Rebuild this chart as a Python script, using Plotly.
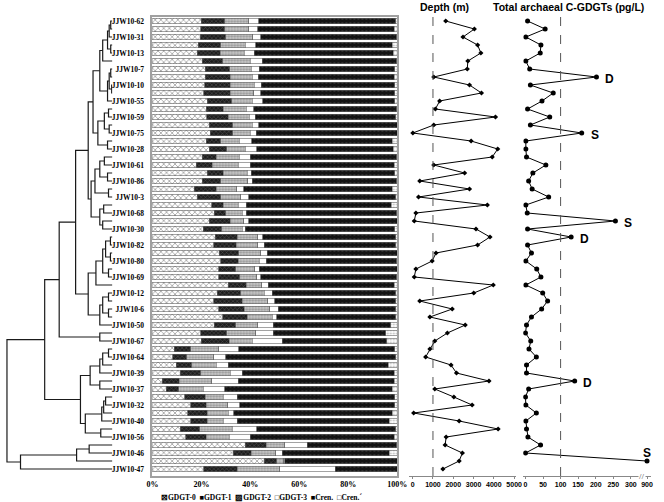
import plotly.graph_objects as go

W, H = 664, 502
N = 57
rows = list(range(1, N + 1))

sample_labels = ["JJW10-62", "JJW10-31", "JJW10-13", "JJW10-7", "JJW10-10", "JJW10-55", "JJW10-59",
                 "JJW10-75", "JJW10-28", "JJW10-61", "JJW10-86", "JJW10-3", "JJW10-68", "JJW10-30",
                 "JJW10-82", "JJW10-80", "JJW10-69", "JJW10-12", "JJW10-6", "JJW10-50", "JJW10-67",
                 "JJW10-64", "JJW10-39", "JJW10-37", "JJW10-32", "JJW10-40", "JJW10-56", "JJW10-46",
                 "JJW10-47"]
label_rows = list(range(1, N + 1, 2))

# relative abundance (%) of each component, rows top -> bottom
gdgt0 = [20.0, 19.7, 19.5, 18.7, 18.4, 20.4, 21.6, 21.6, 21.3, 21.0, 22.4, 22.0, 22.1, 23.3, 23.7, 21.9,
         23.3, 20.4, 18.0, 22.3, 20.4, 17.0, 18.4, 24.3, 25.3, 23.3, 20.7, 25.6, 25.0, 27.3, 28.0, 27.0,
         27.0, 31.0, 26.4, 25.0, 27.0, 28.7, 25.3, 19.7, 20.0, 9.0, 8.3, 9.7, 11.3, 4.0, 5.6, 13.3, 15.7,
         14.4, 15.6, 11.3, 13.7, 38.0, 33.0, 45.6, 21.0]
gdgt1 = [9.6, 9.9, 10.5, 9.3, 9.3, 8.3, 9.9, 10.1, 10.4, 10.7, 10.1, 7.0, 8.9, 9.5, 9.1, 6.1, 7.0, 5.6,
         6.4, 6.7, 7.6, 9.0, 9.6, 4.7, 4.7, 8.4, 7.7, 9.1, 9.3, 8.0, 7.0, 7.0, 8.6, 7.4, 9.6, 11.7, 10.6,
         10.0, 8.7, 10.7, 11.3, 6.7, 5.7, 6.3, 8.4, 7.0, 5.1, 8.3, 6.3, 8.0, 6.8, 8.0, 8.3, 8.4, 7.3, 5.1,
         13.7]
gdgt2 = [9.7, 9.7, 11.0, 10.0, 9.9, 11.3, 8.8, 9.0, 9.9, 9.6, 8.3, 9.4, 8.5, 8.0, 7.2, 7.5, 7.7, 9.5,
         10.6, 9.7, 10.9, 8.4, 8.0, 6.0, 6.7, 5.6, 8.3, 8.3, 8.7, 9.0, 8.7, 7.7, 7.1, 6.3, 9.7, 10.3, 10.4,
         10.2, 9.0, 11.9, 9.4, 11.3, 11.0, 10.0, 12.0, 13.3, 10.0, 7.4, 8.7, 8.6, 6.6, 13.4, 9.3, 7.6, 10.1,
         2.9, 17.3]
gdgt3 = [4.2, 3.7, 3.3, 4.3, 4.0, 4.8, 3.4, 2.6, 2.9, 3.0, 4.2, 2.9, 2.5, 2.7, 2.4, 5.0, 4.7, 4.5, 5.0,
         1.6, 1.8, 2.9, 3.3, 3.3, 1.6, 2.0, 1.3, 2.0, 2.6, 2.6, 2.7, 1.9, 1.6, 2.6, 3.3, 3.0, 3.3, 1.8, 6.3,
         7.0, 12.3, 8.3, 5.0, 5.0, 5.0, 10.7, 8.9, 5.7, 5.0, 2.3, 5.7, 10.0, 8.7, 9.3, 2.6, 0.4, 22.7]
cren = [55.8, 55.7, 55.4, 55.7, 56.8, 54.9, 55.3, 55.4, 54.5, 54.7, 54.0, 58.4, 57.3, 56.5, 57.6, 57.5,
        55.7, 59.7, 58.7, 58.7, 59.0, 60.7, 60.0, 59.3, 61.4, 60.7, 61.0, 54.3, 53.7, 53.1, 53.3, 56.4,
        55.4, 51.4, 50.3, 49.3, 48.0, 48.6, 48.0, 46.0, 42.7, 63.7, 69.3, 65.3, 62.0, 63.7, 68.4, 64.3,
        63.3, 64.7, 62.0, 56.6, 58.7, 36.4, 43.7, 46.0, 25.3]
cren_iso = [0.7, 1.3, 0.3, 2.0, 1.6, 0.3, 1.0, 1.3, 1.0, 1.0, 1.0, 0.3, 0.7, 0.0, 0.0, 2.0, 1.6, 0.3, 1.3,
            1.0, 0.3, 2.0, 0.7, 2.4, 0.3, 0.0, 1.0, 0.7, 0.7, 0.0, 0.3, 0.0, 0.3, 1.3, 0.7, 0.7, 0.7, 0.7,
            2.7, 4.7, 4.3, 1.0, 0.7, 3.7, 1.3, 1.3, 2.0, 1.0, 1.0, 2.0, 3.3, 0.7, 1.3, 0.3, 3.3, 0.0, 0.0]

depth_m = [1630, 3040, 2480, 3200, 3360, 2720, 2690, 1040, 2800, 3390, 1330, 1120, 4080, 1040, 10, 2880,
           4190, 3920, 1040, 2560, 350, 2800, 290, 3680, 160, 80, 3120, 3810, 3200, 1150, 960, 160, 80,
           3970, 3010, 350, 1950, 850, 2590, 1710, 1090, 850, 640, 1890, 2160, 3760, 1090, 2030, 2930,
           50, 2290, 4210, 1650, 1600, 2450, 2290, 1490]
cgdgt_pgL = [6, 56, 1, 44, 42, 1, 12, 202, 14, 79, 47, 6, 69, 14, 160, 1, 1, 3, 58, 21, 9, 19, 66, 1, 5,
             256, 6, 130, 6, 17, 1, 32, 44, 1, 49, 63, 46, 17, 3, 0, 15, 10, 31, 3, 3, 140, 9, 0, 1, 31,
             1, 3, 7, 43, 0, 900, None]
event_rows = [8, 15, 26, 28, 46, 56]
event_tags = ["D", "S", "S", "D", "D", "S"]

depth_ticks = [0, 1000, 2000, 3000, 4000, 5000]
cg_ticks = [0, 50, 100, 150, 200, 250, 300, 900]
cg_break_from = 300      # axis is broken after this value
cg_break_pos = 346       # axis position where the value beyond the break is drawn

# hierarchical clustering: (child a, child b, height); positive = leaf row, negative = merge number
dendro_merges = [
    (1, 2, 1.7), (-1, 3, 3.3), (4, 5, 1.7), (-2, -3, 5), (-4, 6, 10), (7, 8, 1.7), (9, 10, 0.7),
    (-6, -7, 3.3), (-8, 11, 5), (-5, -9, 13), (12, 13, 4), (14, 15, 3.3), (-11, -12, 8.3), (16, 17, 5),
    (-13, -14, 15), (-10, -15, 20), (18, 19, 8.3), (20, 21, 5), (-17, -18, 13), (22, 23, 4),
    (-19, -20, 18), (24, 25, 9), (26, 27, 10), (-22, -23, 13), (-21, -24, 22), (-16, -25, 25),
    (28, 29, 2), (30, 31, 2), (-27, -28, 7), (32, 33, 4), (-29, -30, 10), (-31, 34, 17), (35, 36, 4),
    (37, 38, 4), (-33, -34, 10), (-35, 39, 13), (-32, -36, 25), (-26, -37, 38), (40, 41, 13),
    (-38, -39, 55), (42, 43, 4), (-41, 44, 10), (-42, 45, 13), (46, 47, 13), (-43, -44, 23),
    (48, 49, 7), (-46, 50, 9), (-47, 51, 11), (52, 53, 12), (-48, -49, 28), (-45, -50, 33),
    (-40, -51, 70), (54, 55, 24), (-53, 56, 37), (-54, 57, 95), (-52, -55, 109),
]

# ---------------------------------------------------------------- helpers
def px_x(p):
    return p / W


def px_y(p):
    return 1 - p / H


top_px, bot_px = 17, 476
row0_px, row_step = 21, 8
y_top = 1 - (row0_px - top_px) / row_step
y_bot = 1 + (bot_px - row0_px) / row_step

fig = go.Figure()

# dendrogram
pos = {i: (i, 0.0) for i in rows}
dx, dy = [], []
for k, (a, b, h) in enumerate(dendro_merges, start=1):
    ya, da = pos[a]
    yb, db = pos[b]
    dx += [da, h, h, db, None]
    dy += [ya, ya, yb, yb, None]
    pos[-k] = ((ya + yb) / 2, h)
fig.add_trace(go.Scatter(x=dx, y=dy, mode="lines", xaxis="x", yaxis="y",
                         line=dict(color="#1a1a1a", width=1.2), hoverinfo="skip"))

# stacked bars
bar_styles = [
    ("GDGT-0", gdgt0, dict(shape="x", bgcolor="white", fgcolor="#3a3a3a", size=4, solidity=0.35)),
    ("GDGT-1", gdgt1, dict(shape="x", bgcolor="#1e1e1e", fgcolor="#8a8a8a", size=3, solidity=0.3)),
    ("GDGT-2", gdgt2, dict(shape=".", bgcolor="#c8c8c8", fgcolor="#6a6a6a", size=3, solidity=0.45)),
    ("GDGT-3", gdgt3, dict(shape="", bgcolor="white", fgcolor="white")),
    ("Cren.", cren, dict(shape=".", bgcolor="#141414", fgcolor="#555", size=4, solidity=0.2)),
    ("Cren.'", cren_iso, dict(shape=".", bgcolor="white", fgcolor="#777", size=3, solidity=0.3)),
]
for name, vals, pat in bar_styles:
    fig.add_trace(go.Bar(x=vals, y=rows, orientation="h", name=name, xaxis="x2", yaxis="y",
                         width=0.72,
                         marker=dict(color=pat["bgcolor"], pattern=pat,
                                     line=dict(color="#666", width=0.6))))

# depth profile
fig.add_trace(go.Scatter(x=depth_m, y=rows, xaxis="x3", yaxis="y", mode="lines+markers",
                         line=dict(color="black", width=1),
                         marker=dict(symbol="diamond", size=4, color="black")))

# total C-GDGTs (broken axis)
def cg_axis_value(v):
    if v is None:
        return None
    return v if v <= cg_break_from else cg_break_pos


cg_plot = [cg_axis_value(v) for v in cgdgt_pgL]
fig.add_trace(go.Scatter(x=cg_plot, y=rows, xaxis="x4", yaxis="y", mode="lines+markers",
                         line=dict(color="black", width=1),
                         marker=dict(symbol="circle", size=5, color="black")))

# ---------------------------------------------------------------- axes
serif_b = dict(family="Liberation Serif, Times New Roman, serif", size=8, color="black")
label_font = dict(family="Liberation Serif, Times New Roman, serif", size=7.5, color="black")
sans_b = dict(family="Liberation Sans, Arial, sans-serif", size=7, color="black")

d0_px, d_scale = 416.7, 0.0208
c0_px, c_scale = 532.3, 0.36
d_l, d_r = 413, 523
c_l, c_r = 530, 661

fig.update_layout(
    width=W, height=H, margin=dict(l=0, r=0, t=0, b=0),
    paper_bgcolor="white", plot_bgcolor="white", showlegend=False, barmode="stack",
    yaxis=dict(domain=[px_y(bot_px), px_y(top_px)], range=[y_bot, y_top], anchor="x2",
               tickvals=label_rows, ticktext=[f"<b>{s}</b>" for s in sample_labels],
               tickfont=label_font, ticks="", ticklabelstandoff=5, showgrid=False, zeroline=False,
               showline=True, mirror=True, linecolor="#a0a0a0", linewidth=1.5),
    xaxis=dict(domain=[0, px_x(109)], range=[110, 0], visible=False, anchor="y"),
    xaxis2=dict(domain=[px_x(150), px_x(401)], range=[0, 100], anchor="y",
                tickvals=[0, 20, 40, 60, 80, 100],
                ticktext=[f"<b>{v}%</b>" for v in [0, 20, 40, 60, 80, 100]],
                tickfont=serif_b, ticks="", showgrid=False, zeroline=False,
                showline=True, mirror=True, linecolor="#a0a0a0", linewidth=1.5),
    xaxis3=dict(domain=[px_x(d_l), px_x(d_r)],
                range=[(d_l - d0_px) / d_scale, (d_r - d0_px) / d_scale], anchor="y",
                tickvals=depth_ticks, ticktext=[f"<b>{v}</b>" for v in depth_ticks],
                tickfont=sans_b, ticks="outside", ticklen=2, tickcolor="#888",
                showgrid=False, zeroline=False, showline=True, linecolor="#888", linewidth=1),
    xaxis4=dict(domain=[px_x(c_l), px_x(c_r)],
                range=[(c_l - c0_px) / c_scale, (c_r - c0_px) / c_scale], anchor="y",
                tickvals=[cg_axis_value(v) for v in cg_ticks],
                ticktext=[f"<b>{v}</b>" for v in cg_ticks],
                tickfont=sans_b, ticks="outside", ticklen=2, tickcolor="#888",
                showgrid=False, zeroline=False, showline=True, linecolor="#888", linewidth=1),
)

# reference dashed lines
fig.add_shape(type="line", xref="x3", yref="y", x0=1000, x1=1000, y0=y_top, y1=y_bot,
              line=dict(color="#555", width=1, dash="dash"))
fig.add_shape(type="line", xref="x4", yref="y", x0=100, x1=100, y0=y_top, y1=y_bot,
              line=dict(color="#555", width=1, dash="dash"))

# axis break mark
fig.add_annotation(x=(cg_break_from + cg_break_pos) / 2 + 9, y=y_bot, xref="x4", yref="y",
                   xanchor="center", yanchor="middle",
                   text="//", showarrow=False, font=dict(size=7, color="#777"),
                   bgcolor="white", borderpad=0)

# D / S event labels
for r, tag in zip(event_rows, event_tags):
    v = cg_axis_value(cgdgt_pgL[r - 1])
    last = r == event_rows[-1]
    fig.add_annotation(x=v, y=r, xref="x4", yref="y", text=f"<b>{tag}</b>", showarrow=False,
                       xanchor="center", yanchor="middle",
                       xshift=0 if last else 13, yshift=8 if last else -2,
                       font=dict(family="Liberation Sans, Arial, sans-serif", size=12, color="black"))

# panel titles
title_font = dict(family="Liberation Sans, Arial, sans-serif", size=10.5, color="black")
fig.add_annotation(x=px_x(449.5), y=px_y(7), xref="paper", yref="paper", showarrow=False,
                   xanchor="center", yanchor="middle", text="<b>Depth (m)</b>", font=title_font)
fig.add_annotation(x=px_x(576), y=px_y(7), xref="paper", yref="paper", showarrow=False,
                   xanchor="center", yanchor="middle",
                   text="<b>Total archaeal C-GDGTs (pg/L)</b>", font=title_font)

# legend
legend_text = "<b>⊠GDGT-0  ■GDGT-1  ▨GDGT-2  □GDGT-3  ■Cren.  □Cren.´</b>"
fig.add_annotation(x=px_x(262), y=px_y(497), xref="paper", yref="paper", showarrow=False,
                   xanchor="center", yanchor="middle", text=legend_text,
                   font=dict(family="Liberation Serif, Times New Roman, serif", size=7.5, color="black"))

fig.write_html("out.html", config={"displayModeBar": False},
               post_script="document.body.style.margin='0px';")
